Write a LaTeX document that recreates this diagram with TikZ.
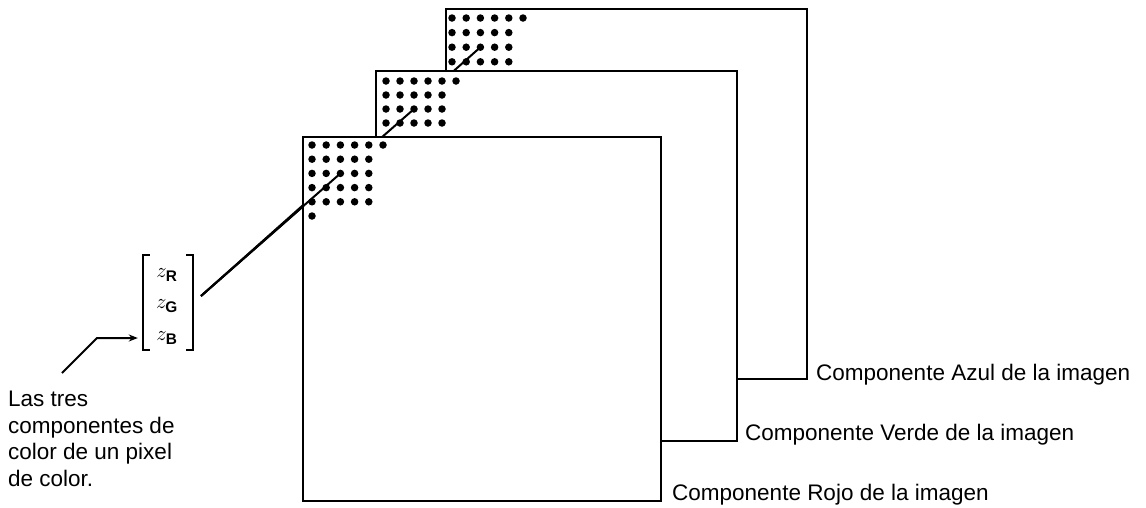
\documentclass[tikz,border=0pt]{standalone}
\usepackage{fontspec}
\setmainfont{Liberation Sans}
\usetikzlibrary{arrows.meta}
\begin{document}
\begin{tikzpicture}[x=1pt,y=-1pt,
  plane/.style={draw=black, fill=white, line width=2.2pt, rectangle, inner sep=0pt, anchor=north west},
  dot/.style={circle, fill=black, inner sep=0pt, minimum size=7.5pt},
  ray/.style={draw=black, line width=2pt},
  brk/.style={draw=black, line width=2.2pt},
  lbl/.style={font=\fontsize{22.5}{26.5}\selectfont, inner sep=0pt, anchor=base west},
  ent/.style={font=\fontsize{22}{26}\selectfont, inner sep=0pt},
  pointer/.style={draw=black, line width=2pt, -{Stealth[length=9pt,width=7pt]}}]
\useasboundingbox (0,0) rectangle (1146,507);

\coordinate (src) at (201,296);

% ---- Blue plane ----
\node[plane, minimum width=361pt, minimum height=370pt] (blue) at (445,8) {};
\foreach \r/\n in {0/6,1/5,2/5,3/5}
  \foreach \c in {1,...,\n}
    \node[dot] (b\r\c) at ({452+14.2*(\c-1)}, {18+14.6*\r}) {};
\draw[ray] (src) -- (b23.center);

% ---- Green plane ----
\node[plane, minimum width=361pt, minimum height=370pt] (green) at (375,70) {};
\foreach \r/\n in {0/6,1/5,2/5,3/5}
  \foreach \c in {1,...,\n}
    \node[dot] (g\r\c) at ({386+14*(\c-1)}, {81+14*\r}) {};
\draw[ray] (src) -- (g23.center);

% ---- Red plane ----
\node[plane, minimum width=358pt, minimum height=364pt] (red) at (302,136) {};
\foreach \r/\n in {0/6,1/5,2/5,3/5,4/5,5/1}
  \foreach \c in {1,...,\n}
    \node[dot] (r\r\c) at ({312+14.2*(\c-1)}, {145+14.2*\r}) {};
\draw[ray] (src) -- (r23.center);

% ---- Labels of planes ----
\node[lbl] (lblue) at (816,380) {Componente Azul de la imagen};
\node[lbl] (lgreen) at (745,440) {Componente Verde de la imagen};
\node[lbl] (lred) at (672,500) {Componente Rojo de la imagen};

% ---- Pixel vector ----
\node[minimum width=50pt, minimum height=95pt, inner sep=0pt] (vec) at (168,302.5) {};
\draw[brk] ([xshift=7pt]vec.north west) -- (vec.north west) -- (vec.south west) -- ([xshift=7pt]vec.south west);
\draw[brk] ([xshift=-7pt]vec.north east) -- (vec.north east) -- (vec.south east) -- ([xshift=-7pt]vec.south east);
\node[ent] (zr) at (167,275) {$z_{\mathbf{R}}$};
\node[ent] (zg) at (167,306) {$z_{\mathbf{G}}$};
\node[ent] (zb) at (167,338) {$z_{\mathbf{B}}$};

% ---- Pointer and caption ----
\coordinate (atail) at (62,373);
\coordinate (abend) at (97,338);
\draw[pointer] (atail) -- (abend) -- ([xshift=-5pt]vec.west |- zb.center);
\node[lbl, align=left, anchor=north west] (cap) at (8,391)
  {Las tres\\componentes de\\color de un pixel\\de color.};
\end{tikzpicture}
\end{document}
